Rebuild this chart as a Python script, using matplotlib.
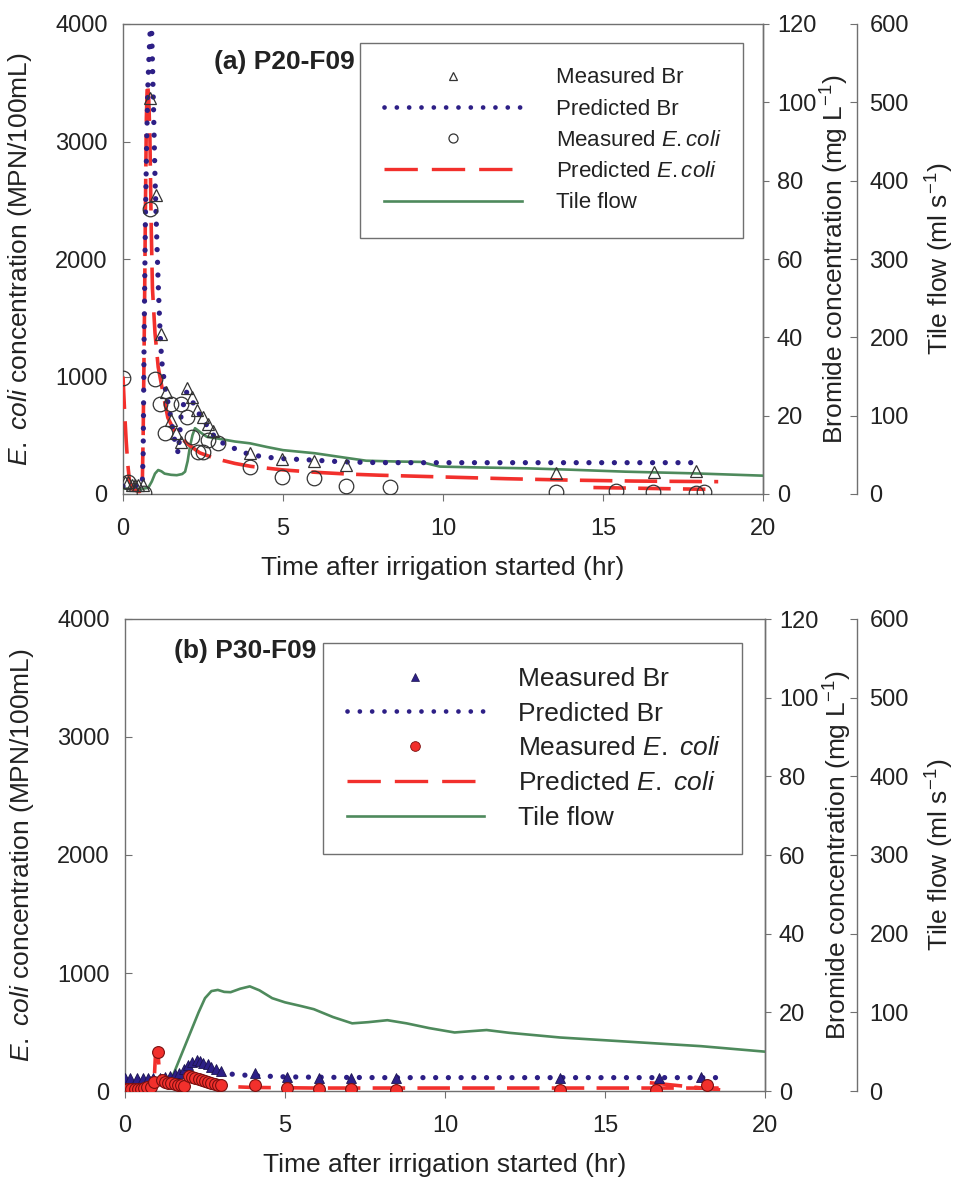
import numpy as np
import matplotlib
matplotlib.use("Agg")
import matplotlib.pyplot as plt
from matplotlib.lines import Line2D

plt.rcParams['font.family'] = ['Liberation Sans', 'DejaVu Sans']
plt.rcParams['mathtext.fontset'] = 'custom'
plt.rcParams['mathtext.rm'] = 'Liberation Sans'
plt.rcParams['mathtext.it'] = 'Liberation Sans:italic'
plt.rcParams['mathtext.bf'] = 'Liberation Sans:bold'

# ---------------- panel (a) P20-F09 ----------------
a_meas_br_t = [0.06, 0.17, 0.27, 0.37, 0.48, 0.63, 0.84, 1.02, 1.18, 1.34, 1.49, 1.65, 1.81,
               1.99, 2.15, 2.32, 2.49, 2.65, 2.82, 3.97, 4.98, 5.97, 6.96, 13.53, 16.58, 17.9]
a_meas_br = [3.1, 3.0, 2.3, 2.3, 2.3, 2.3, 101, 76.3, 40.8, 26, 18.9, 15.5, 13.4,
             27, 24.8, 21.4, 19.7, 18, 16.1, 10.4, 8.9, 8.4, 7.4, 5.4, 5.5, 6.0]

a_pred_br_t = [0, 0.3, 0.6, 0.63, 0.66, 0.70, 0.74, 0.78, 0.83, 0.88, 0.95, 1.0, 1.05, 1.1, 1.16,
               1.21, 1.31, 1.47, 1.63, 1.73, 1.82, 1.99, 2.15, 2.3, 2.51, 2.72, 2.93, 3.34, 3.97,
               4.8, 5.84, 6.88, 8.0, 10.0, 12.0, 14.0, 16.0, 18.0]
a_pred_br = [2, 2, 2.2, 10, 40, 70, 90, 105, 115, 124, 100, 81, 66.6, 53.8, 41,
             34, 27.4, 20.6, 13, 10.4, 20.6, 26, 24, 21.4, 18.9, 16.3, 13.8, 12.1, 10,
             9.1, 8.7, 8.2, 8.0, 8.0, 8.0, 8.0, 8.0, 8.0]

a_meas_ec_t = [0.01, 0.17, 0.67, 0.84, 1.0, 1.16, 1.31, 1.49, 1.81, 1.99, 2.17, 2.35, 2.5,
               2.67, 2.98, 3.97, 4.98, 5.97, 6.96, 8.34, 13.53, 15.4, 16.57, 17.9, 18.16]
a_meas_ec = [985, 105, 8, 2425, 979, 769, 519, 769, 769, 658, 488, 360, 360,
             460, 431, 232, 147, 139, 71, 57, 20, 28, 17, 6, 17]

a_pred_ec_t = [0.0, 0.05, 0.1, 0.15, 0.2, 0.3, 0.5, 0.6, 0.63, 0.67, 0.7, 0.73, 0.76, 0.8, 0.84,
               0.88, 0.92, 1.0, 1.1, 1.25, 1.4, 1.6, 1.8, 2.0, 2.4, 2.9, 3.5, 4.0, 5.0, 6.0, 7.0,
               8.0, 10.0, 12.0, 14.0, 16.0, 18.6, np.nan, 14.7, 18.2]
a_pred_ec = [1000, 700, 450, 250, 120, 40, 20, 30, 500, 1500, 2400, 3200, 3500, 3400, 3050,
             2300, 1750, 1370, 1080, 860, 650, 540, 480, 430, 350, 300, 260, 235, 205, 185, 170,
             160, 145, 130, 118, 110, 105, np.nan, 55, 40]

a_flow_t = [0, 0.3, 0.6, 0.79, 0.9, 1.0, 1.1, 1.2, 1.3, 1.5, 1.68, 1.85, 1.94, 2.02, 2.09,
            2.17, 2.25, 2.35, 2.46, 2.62, 2.93, 3.5, 3.97, 4.5, 5.0, 6.0, 7.0, 7.6, 8.5, 9.3,
            9.9, 11.0, 12.6, 14.0, 15.7, 17.8, 20]
a_flow = [7, 6.5, 6.5, 8, 16, 26, 30.6, 29, 26, 24.5, 24, 25.5, 28.5, 42, 60,
          75, 84, 81, 77.5, 73, 71, 67, 64.7, 60, 56, 52, 46, 42.5, 41.5, 41,
          35, 34, 32.8, 31, 28.5, 26.4, 23.4]

# ---------------- panel (b) P30-F09 ----------------
b_meas_br_t = [0.0, 0.16, 0.36, 0.57, 0.73, 0.89, 1.1, 1.25, 1.4, 1.55, 1.7, 1.85, 1.98, 2.1,
               2.24, 2.35, 2.45, 2.6, 2.7, 2.85, 3.0, 4.06, 5.05, 6.07, 7.05, 8.47, 13.6, 16.7, 18.0]
b_meas_br = [3.3, 3.3, 3.3, 3.3, 3.3, 3.3, 3.3, 3.5, 3.8, 4.2, 4.5, 5.5, 6.6, 7.4,
             8.0, 7.6, 7.0, 6.8, 6.2, 5.6, 5.0, 4.5, 3.6, 3.4, 3.4, 3.2, 3.3, 3.3, 3.5]

b_pred_br_t = [0, 0.5, 1.0, 1.5, 1.8, 2.0, 2.2, 2.4, 2.6, 2.8, 3.0, 3.4, 4.0, 5.0, 6.0, 8.0,
               10.0, 12.0, 14.0, 16.0, 18.5]
b_pred_br = [3.0, 3.0, 3.1, 3.2, 3.8, 5.5, 7.0, 6.8, 6.2, 5.4, 4.8, 4.2, 3.9, 3.6, 3.5, 3.4,
             3.4, 3.4, 3.4, 3.4, 3.4]

b_meas_ec_t = [0.0, 0.1, 0.2, 0.3, 0.4, 0.5, 0.6, 0.7, 0.8, 0.9, 1.03, 1.15, 1.25, 1.35, 1.45,
               1.55, 1.65, 1.75, 1.85, 2.0, 2.1, 2.2, 2.3, 2.4, 2.5, 2.6, 2.7, 2.8, 2.9, 3.0,
               4.06, 5.05, 6.07, 7.05, 8.47, 13.6, 16.6, 18.2]
b_meas_ec = [15, 20, 15, 20, 15, 20, 25, 30, 35, 80, 330, 90, 75, 70, 65,
             60, 55, 50, 40, 130, 120, 110, 105, 95, 85, 75, 70, 60, 55, 50,
             51, 25, 20, 20, 5, 10, 5, 50]

b_pred_ec_t = [0, 0.9, 0.95, 1.03, 1.1, 1.2, 1.8, 2.0, 2.3, 2.8, 3.0, 3.5, 4.0, 6, 10, 14, 16,
               18.6, np.nan, 16.4, 18.6]
b_pred_ec = [10, 15, 300, 320, 80, 50, 40, 110, 90, 60, 45, 35, 30, 25, 25, 25, 25,
             25, np.nan, 70, 10]

b_flow_t = [0, 1.0, 1.3, 1.5, 1.7, 1.9, 2.1, 2.3, 2.5, 2.7, 2.9, 3.1, 3.3, 3.6, 3.9, 4.2, 4.6,
            5.0, 5.5, 5.9, 6.5, 7.1, 7.6, 8.2, 8.8, 9.5, 10.3, 10.8, 11.3, 12.0, 13.6, 16.0,
            18.0, 20.0]
b_flow = [10, 10, 11, 20, 40, 60, 80, 100, 118, 127, 128.5, 126, 125.6, 130, 133, 128, 118,
          112.7, 108, 104, 94, 86, 87.5, 90, 86, 80, 74.4, 76, 77.5, 74, 68, 62,
          57, 50]

NAVY = '#2d1f86'
RED = '#f2302c'
GREEN = '#4e8a5c'
GREY = '#707070'
TXT = '#222222'

fig = plt.figure(figsize=(9.59, 11.86), dpi=100)
PX = 72 / 100  # points per pixel


def style_axis(ax):
    for s in ax.spines.values():
        s.set_color(GREY)
        s.set_linewidth(1.0)


def draw_panel(rect, d, title, title_xy, filled, leg_box, leg_fs, leg_kw, ec_lbl):
    ax = fig.add_axes(rect)
    ax_br = ax.twinx()
    ax_tf = ax.twinx()
    for a in (ax, ax_br, ax_tf):
        style_axis(a)

    ax.set_xlim(0, 20)
    ax.set_ylim(0, 4000)
    ax.set_xticks([0, 5, 10, 15, 20])
    ax.set_yticks([0, 1000, 2000, 3000, 4000])
    ax.tick_params(axis='x', direction='out', length=5, pad=12, labelsize=17,
                   colors=GREY, labelcolor=TXT)
    ax.tick_params(axis='y', direction='in', length=5, pad=11, labelsize=17,
                   colors=GREY, labelcolor=TXT, right=False)

    ax_br.set_ylim(0, 120)
    ax_br.set_yticks([0, 20, 40, 60, 80, 100, 120])
    ax_br.tick_params(axis='y', direction='out', length=4, pad=6, labelsize=17,
                      colors=GREY, labelcolor=TXT)
    for k in ('left', 'top', 'bottom'):
        ax_br.spines[k].set_visible(False)

    ax_tf.set_ylim(0, 600)
    ax_tf.set_yticks([0, 100, 200, 300, 400, 500, 600])
    ax_tf.spines['right'].set_position(('outward', d['tf_off'] * PX))
    ax_tf.tick_params(axis='y', direction='in', length=5, pad=9, labelsize=17,
                      colors=GREY, labelcolor=TXT)
    for k in ('left', 'top', 'bottom'):
        ax_tf.spines[k].set_visible(False)

    # lines
    ax_tf.plot(d['flow_t'], d['flow'], color=GREEN, lw=1.9, zorder=2)
    ax_tf.plot(d['pred_ec_t'], np.array(d['pred_ec']) * 600 / 4000, color=RED, lw=2.6,
               dashes=(9.0, 3.4), zorder=3)
    ax_tf.plot(d['pred_br_t'], np.array(d['pred_br']) * 5, color=NAVY, lw=3.8,
               dashes=(0.01, 2.4), dash_capstyle='round', zorder=4)
    if filled:
        ax_tf.plot(d['meas_br_t'], np.array(d['meas_br']) * 5, ls='none', marker='^',
                   ms=7.5, mfc=NAVY, mec='#1c1450', mew=0.6, zorder=5)
        ax_tf.plot(d['meas_ec_t'], np.array(d['meas_ec']) * 600 / 4000, ls='none',
                   marker='o', ms=8.5, mfc=RED, mec='#7a1010', mew=0.8, zorder=6)
    else:
        ax_tf.plot(d['meas_br_t'], np.array(d['meas_br']) * 5, ls='none', marker='^',
                   ms=9, mfc='none', mec='#333333', mew=0.9, zorder=5)
        ax_tf.plot(d['meas_ec_t'], np.array(d['meas_ec']) * 600 / 4000, ls='none',
                   marker='o', ms=10.5, mfc='none', mec='#333333', mew=0.9, zorder=6)

    # axis labels
    ax.set_xlabel('Time after irrigation started (hr)', fontsize=19, color=TXT, va='center')
    ax.xaxis.set_label_coords(0.5, d['xlab_y'])
    ax.set_ylabel(r'$\it{E.\ coli}$ concentration (MPN/100mL)', fontsize=19, color=TXT,
                  va='center')
    ax.yaxis.set_label_coords(d['ylab_x'][0], 0.5)
    ax_br.set_ylabel(r'Bromide concentration (mg L$^{-1}$)', fontsize=19, color=TXT)
    ax_br.yaxis.label.set_va('center')
    ax_br.yaxis.set_label_coords(d['ylab_x'][1], 0.5)
    ax_tf.set_ylabel(r'Tile flow (ml s$^{-1}$)', fontsize=19, color=TXT)
    ax_tf.yaxis.label.set_va('center')
    ax_tf.yaxis.set_label_coords(d['ylab_x'][2], 0.5)

    ax.text(title_xy[0], title_xy[1], title, transform=ax.transAxes, ha='right', va='center',
            fontsize=19, fontweight='bold', color=TXT)

    # legend
    if filled:
        h_mb = Line2D([], [], ls='none', marker='^', ms=6, mfc=NAVY, mec='#1c1450', mew=0.5)
        h_me = Line2D([], [], ls='none', marker='o', ms=7, mfc=RED, mec='#7a1010', mew=0.6)
    else:
        h_mb = Line2D([], [], ls='none', marker='^', ms=6, mfc='none', mec='#333333', mew=0.9)
        h_me = Line2D([], [], ls='none', marker='o', ms=6.5, mfc='none', mec='#333333', mew=0.9)
    h_pb = Line2D([], [], color=NAVY, lw=3.4, dashes=(0.01, 2.6), dash_capstyle='round')
    h_pe = Line2D([], [], color=RED, lw=2.4, dashes=(10.0, 4.2))
    h_f = Line2D([], [], color=GREEN, lw=1.9)
    leg = ax_tf.legend([h_mb, h_pb, h_me, h_pe, h_f],
                       ['Measured Br', 'Predicted Br', 'Measured ' + ec_lbl,
                        'Predicted ' + ec_lbl, 'Tile flow'],
                       loc='upper left', bbox_to_anchor=leg_box, bbox_transform=fig.transFigure,
                       mode='expand', borderaxespad=0, fontsize=leg_fs, fancybox=False,
                       framealpha=1, edgecolor=GREY, **leg_kw)
    leg.get_frame().set_linewidth(1.0)
    for t in leg.get_texts():
        t.set_color(TXT)
    return ax


W, H = 959, 1186

da = dict(meas_br_t=a_meas_br_t, meas_br=a_meas_br, pred_br_t=a_pred_br_t, pred_br=a_pred_br,
          meas_ec_t=a_meas_ec_t, meas_ec=a_meas_ec, pred_ec_t=a_pred_ec_t, pred_ec=a_pred_ec,
          flow_t=a_flow_t, flow=a_flow, tf_off=94,
          xlab_y=-(568 - 494) / 470, ylab_x=((20 - 123) / 640, (835 - 123) / 640,
                                             (940 - 123) / 640))
db = dict(meas_br_t=b_meas_br_t, meas_br=b_meas_br, pred_br_t=b_pred_br_t, pred_br=b_pred_br,
          meas_ec_t=b_meas_ec_t, meas_ec=b_meas_ec, pred_ec_t=b_pred_ec_t, pred_ec=b_pred_ec,
          flow_t=b_flow_t, flow=b_flow, tf_off=92,
          xlab_y=-(1165 - 1091) / 472, ylab_x=((22 - 125) / 640, (838 - 125) / 640,
                                               (940 - 125) / 640))

draw_panel([123 / W, 1 - 494 / H, 640 / W, 470 / H], da, '(a) P20-F09',
           ((355 - 123) / 640, (494 - 62) / 470), False,
           (360 / W, 1 - 239 / H, 383 / W, 196 / H), 16,
           dict(handlelength=6.2, handletextpad=1.5, borderpad=1.1, labelspacing=0.46),
           r'$\it{E.coli}$')
draw_panel([125 / W, 1 - 1091 / H, 640 / W, 472 / H], db, '(b) P30-F09',
           ((316 - 125) / 640, (1091 - 651) / 472), True,
           (323 / W, 1 - 858 / H, 419 / W, 215 / H), 19,
           dict(handlelength=5.2, handletextpad=1.3, borderpad=0.9, labelspacing=0.41),
           r'$\it{E.\ coli}$')

fig.savefig('out.png', dpi=100, facecolor='white')
